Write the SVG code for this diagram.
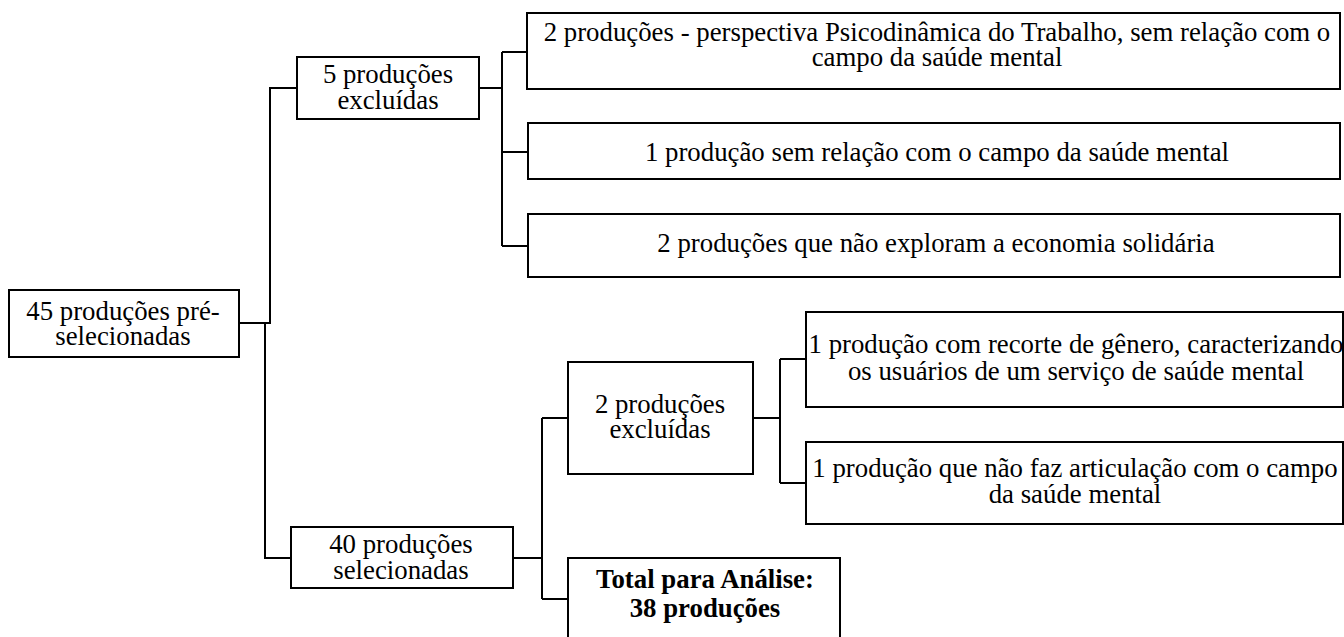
<svg xmlns="http://www.w3.org/2000/svg" width="1344" height="637" viewBox="0 0 1344 637">
<style>
.box{fill:#fff;stroke:#000;stroke-width:2}
text{font-family:'Liberation Serif','Times New Roman','DejaVu Serif',serif;font-size:26.8px;fill:#000;text-anchor:middle}
.b{font-weight:bold}
.c{fill:none;stroke:#000;stroke-width:2}
</style>
<rect width="1344" height="637" fill="#fff"/>
<g id="connectors">
<path class="c" d="M239,323 H271 M270,323 V88 H297 M265,323 V558 H291"/>
<path class="c" d="M479,88 H502 M502,52 V246 M502,52 H527 M502,152 H528 M502,246 H528"/>
<path class="c" d="M513,558 H542 M542,418 V599 M542,418 H568 M542,599 H568"/>
<path class="c" d="M753,418 H780 M780,359 V483 M780,359 H806 M780,483 H806"/>
</g>
<g id="root">
<rect class="box" x="9" y="290" width="230" height="67"/>
<text x="123" y="320">45 produções pré-</text>
<text x="123" y="345">selecionadas</text>
</g>
<g id="excl5">
<rect class="box" x="297" y="57" width="182" height="62"/>
<text x="388" y="83">5 produções</text>
<text x="388" y="109">excluídas</text>
</g>
<g id="ex1">
<rect class="box" x="527" y="13" width="813" height="76"/>
<text x="937" y="41">2 produções - perspectiva Psicodinâmica do Trabalho, sem relação com o</text>
<text x="937" y="66">campo da saúde mental</text>
</g>
<g id="ex2">
<rect class="box" x="528" y="123" width="812" height="56"/>
<text x="937" y="161">1 produção sem relação com o campo da saúde mental</text>
</g>
<g id="ex3">
<rect class="box" x="528" y="214" width="812" height="63"/>
<text x="936" y="252">2 produções que não exploram a economia solidária</text>
</g>
<g id="sel40">
<rect class="box" x="291" y="527" width="222" height="61"/>
<text x="401" y="553">40 produções</text>
<text x="401" y="579">selecionadas</text>
</g>
<g id="excl2">
<rect class="box" x="568" y="362" width="185" height="112"/>
<text x="660" y="413">2 produções</text>
<text x="660" y="438">excluídas</text>
</g>
<g id="rl1">
<rect class="box" x="806" y="312" width="537" height="95"/>
<text x="1076" y="353">1 produção com recorte de gênero, caracterizando</text>
<text x="1076" y="380">os usuários de um serviço de saúde mental</text>
</g>
<g id="rl2">
<rect class="box" x="806" y="442" width="537" height="82"/>
<text x="1075" y="477">1 produção que não faz articulação com o campo</text>
<text x="1075" y="503">da saúde mental</text>
</g>
<g id="total">
<rect class="box" x="568" y="558" width="272" height="90"/>
<text class="b" x="705" y="588">Total para Análise:</text>
<text class="b" x="705" y="617">38 produções</text>
</g>
</svg>
